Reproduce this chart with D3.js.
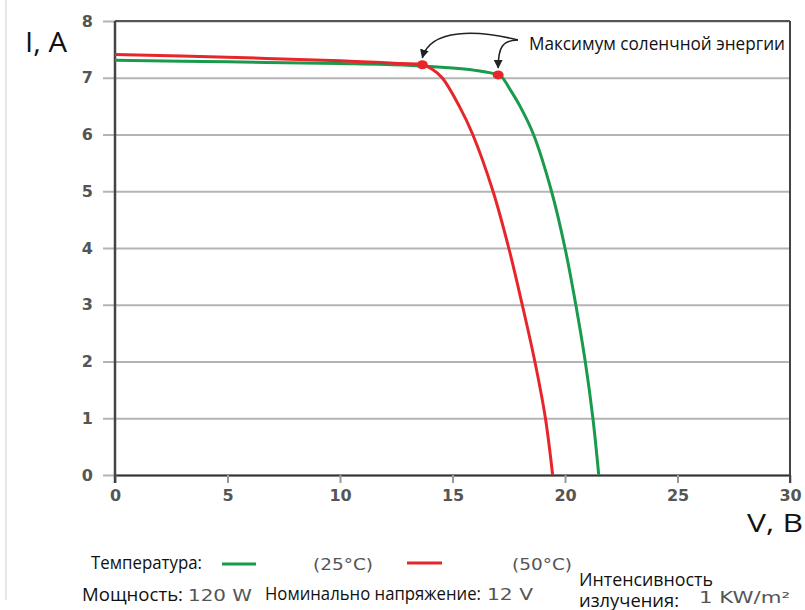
<!DOCTYPE html>
<html>
<head>
<meta charset="utf-8">
<script src="https://cdn.jsdelivr.net/npm/d3@7"></script>
<style>
  html, body { margin: 0; padding: 0; background: #fff; }
  svg { display: block; }
</style>
</head>
<body>
<svg id="chart" width="805" height="610"></svg>
<script>
// I-V curves of the panel
const volt25 = [0, 5, 10, 13, 15, 16, 17.03, 17.22, 17.55, 18.0, 18.6, 19.4, 20.0, 20.48, 20.9, 21.24, 21.5]
const amp25  = [7.31, 7.28, 7.25, 7.22, 7.17, 7.13, 7.05, 7.0, 6.8, 6.5, 6.0, 5.0, 4.0, 3.0, 2.0, 1.0, 0]
const volt50 = [0, 5, 10, 12.69, 13.66, 14.1, 14.54, 15.3, 15.9, 16.8, 17.5, 18.1, 18.66, 19.13, 19.45]
const amp50  = [7.41, 7.36, 7.30, 7.25, 7.23, 7.15, 7.0, 6.5, 6.0, 5.0, 4.0, 3.0, 2.0, 1.0, 0]

// max power points (25C, 50C)
const mppVolt = [17.03, 13.66]
const mppAmp = [7.05, 7.23]

const xTicks = [0, 5, 10, 15, 20, 25, 30]
const yTicks = [0, 1, 2, 3, 4, 5, 6, 7, 8]

const green = "#1a9a4c", red = "#e6262b"

let svg = d3.select("#chart")

let margin = {left: 115, top: 21, right: 15, bottom: 135}
let width = 805 - margin.left - margin.right
let height = 610 - margin.top - margin.bottom

let x = d3.scaleLinear().domain([0, 30]).range([margin.left, margin.left + width])
let y = d3.scaleLinear().domain([0, 8]).range([margin.top + height, margin.top])

// faint page edge at the left
svg.append("line")
    .attr("x1", 6).attr("x2", 6).attr("y1", 0).attr("y2", 600)
    .style("stroke", "#cfcfcf").style("stroke-width", 1)

// gridlines + y ticks
let yAxis = svg.append("g")
    .attr("transform", "translate(" + (margin.left - 12) + ",0)")
    .call(d3.axisLeft(y).tickValues(yTicks).tickSize(-(width + 12)).tickPadding(10).tickFormat(d3.format("d")))
yAxis.select(".domain").remove()
yAxis.selectAll(".tick line")
    .style("stroke", "#b4b4b4").style("stroke-width", 2)
yAxis.selectAll(".tick text")
    .style("font-family", "DejaVu Sans").style("font-weight", "bold")
    .style("font-size", "16px").style("fill", "#555")

// x axis
let xAxis = svg.append("g")
    .attr("transform", "translate(0," + (margin.top + height) + ")")
    .call(d3.axisBottom(x).tickValues(xTicks).tickSize(8).tickPadding(7).tickSizeOuter(0))
xAxis.select(".domain").style("stroke", "#333").style("stroke-width", 2)
xAxis.selectAll(".tick line").style("stroke", "#999").style("stroke-width", 2)
xAxis.selectAll(".tick text")
    .style("font-family", "DejaVu Sans").style("font-weight", "bold")
    .style("font-size", "16px").style("fill", "#555")

// frame: top, right, left axis
svg.append("line")
    .attr("x1", x(0)).attr("x2", x(30)).attr("y1", y(8)).attr("y2", y(8))
    .style("stroke", "#555").style("stroke-width", 2)
svg.append("line")
    .attr("x1", x(30)).attr("x2", x(30)).attr("y1", y(8)).attr("y2", y(0) + 8)
    .style("stroke", "#444").style("stroke-width", 2)
svg.append("line")
    .attr("x1", x(0)).attr("x2", x(0)).attr("y1", y(8)).attr("y2", y(0) + 8)
    .style("stroke", "#444").style("stroke-width", 2.5)

// curves
let line = d3.line()
    .x(d => x(d[0]))
    .y(d => y(d[1]))
    .curve(d3.curveCatmullRom.alpha(0.5))

svg.append("path")
    .datum(d3.zip(volt25, amp25))
    .attr("d", line)
    .style("fill", "none").style("stroke", green).style("stroke-width", 3)

svg.append("path")
    .datum(d3.zip(volt50, amp50))
    .attr("d", line)
    .style("fill", "none").style("stroke", red).style("stroke-width", 3)

svg.selectAll(".mpp")
    .data(d3.zip(mppVolt, mppAmp))
    .join("ellipse")
    .attr("class", "mpp")
    .attr("cx", d => x(d[0]))
    .attr("cy", d => y(d[1]))
    .attr("rx", 5.5).attr("ry", 4.5)
    .style("fill", red)

// annotation arrows
svg.append("defs").append("marker")
    .attr("id", "arrow")
    .attr("viewBox", "0 0 10 10")
    .attr("refX", 9).attr("refY", 5)
    .attr("markerWidth", 9).attr("markerHeight", 9)
    .attr("markerUnits", "userSpaceOnUse")
    .attr("orient", "auto")
    .append("path")
    .attr("d", "M0,0 L10,5 L0,10 z")
    .style("fill", "#222")

let sx = 518, sy = 40
let rx = x(mppVolt[1]), ry = y(mppAmp[1]) - 7
let gx = x(mppVolt[0]), gy = y(mppAmp[0]) - 7
svg.append("path")
    .attr("d", "M" + sx + "," + sy + " C" + (sx - 40) + "," + (sy - 10) + " " + (rx + 8) + "," + (sy - 12) + " " + rx + "," + ry)
    .attr("marker-end", "url(#arrow)")
    .style("fill", "none").style("stroke", "#222").style("stroke-width", 1.5)
svg.append("path")
    .attr("d", "M" + sx + "," + sy + " C" + (sx - 16) + "," + sy + " " + gx + "," + (sy + 8) + " " + gx + "," + gy)
    .attr("marker-end", "url(#arrow)")
    .style("fill", "none").style("stroke", "#222").style("stroke-width", 1.5)

// texts
function label(txt, px, py, size, len, opts) {
    opts = opts || {}
    let t = svg.append("text")
        .attr("x", px).attr("y", py)
        .style("font-family", opts.font || "Open Sans")
        .style("font-size", size + "px")
        .style("fill", opts.fill || "#111")
        .text(txt)
    if (len) t.attr("textLength", len).attr("lengthAdjust", "spacingAndGlyphs")
    return t
}

label("I, A", 25, 52, 27, 42)
label("V, B", 747, 532, 26, 56)
label("Максимум соленчной энергии", 529, 50, 19, 256)

label("Температура:", 91, 569, 18, 111)
label("(25°C)", 313, 570, 15, 60, {font: "DejaVu Sans", fill: "#555"})
label("(50°C)", 512, 570, 15, 60, {font: "DejaVu Sans", fill: "#555"})

svg.append("line").attr("x1", 222).attr("x2", 256).attr("y1", 564).attr("y2", 564)
    .style("stroke", green).style("stroke-width", 3)
svg.append("line").attr("x1", 407).attr("x2", 442).attr("y1", 563).attr("y2", 563)
    .style("stroke", red).style("stroke-width", 3)

label("Мощность:", 82, 601, 18, 101)
label("120 W", 188, 601, 15, 64, {font: "DejaVu Sans", fill: "#555"})
label("Номинально напряжение:", 265, 600, 18, 216)
label("12 V", 487, 600, 15, 46, {font: "DejaVu Sans", fill: "#555"})
label("Интенсивность", 579, 586, 18, 134)
label("излучения:", 579, 607, 18, 100)
label("1 KW/m²", 699, 603, 15, 91, {font: "DejaVu Sans", fill: "#555"})
</script>
</body>
</html>
